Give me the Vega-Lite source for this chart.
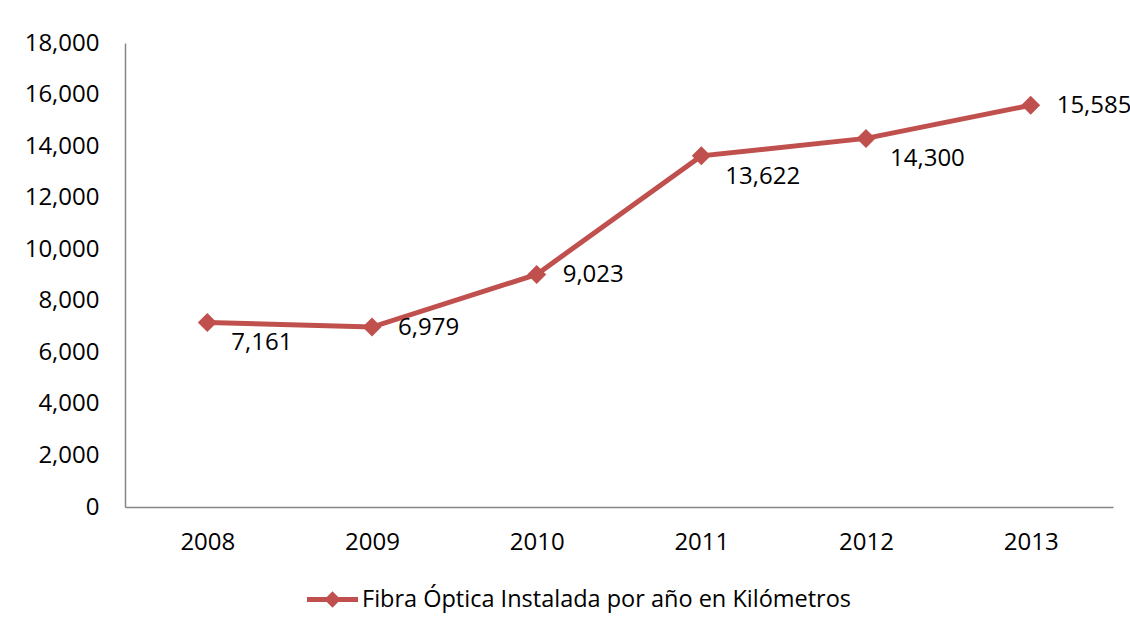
{
  "$schema": "https://vega.github.io/schema/vega-lite/v6.json",
  "autosize": {"type": "none"},
  "width": 988,
  "height": 464,
  "padding": {"left": 125, "top": 43, "right": 17, "bottom": 124},
  "background": "white",
  "config": {
    "view": {"stroke": null},
    "font": "Open Sans",
    "axis": {"labelFont": "Open Sans", "labelFontSize": 24, "labelColor": "#000000", "domainColor": "#868686", "domainWidth": 1.5, "ticks": false, "grid": false, "title": null}
  },
  "data": {
    "values": [
      {"year": "2008", "km": 7161, "serie": "Fibra Óptica Instalada por año en Kilómetros", "pos": "below"},
      {"year": "2009", "km": 6979, "serie": "Fibra Óptica Instalada por año en Kilómetros", "pos": "right"},
      {"year": "2010", "km": 9023, "serie": "Fibra Óptica Instalada por año en Kilómetros", "pos": "right"},
      {"year": "2011", "km": 13622, "serie": "Fibra Óptica Instalada por año en Kilómetros", "pos": "below"},
      {"year": "2012", "km": 14300, "serie": "Fibra Óptica Instalada por año en Kilómetros", "pos": "below"},
      {"year": "2013", "km": 15585, "serie": "Fibra Óptica Instalada por año en Kilómetros", "pos": "right"}
    ]
  },
  "encoding": {
    "x": {"field": "year", "type": "ordinal", "scale": {"type": "point", "padding": 0.5}, "axis": {"labelAngle": 0, "labelPadding": 23}},
    "y": {"field": "km", "type": "quantitative", "scale": {"domain": [0, 18000], "nice": false}, "axis": {"values": [0, 2000, 4000, 6000, 8000, 10000, 12000, 14000, 16000, 18000], "format": ",d", "labelPadding": 26}}
  },
  "layer": [
    {
      "mark": {"type": "line", "strokeWidth": 5},
      "encoding": {
        "color": {"field": "serie", "type": "nominal", "scale": {"range": ["#C0504D"]},
          "legend": {"title": null, "orient": "none", "legendX": 182, "legendY": 531, "labelFontSize": 23.5, "labelFont": "Open Sans", "labelColor": "#000000", "labelLimit": 0, "symbolType": "M-1,-0.1H1V0.1H-1Z M0,-0.32L0.32,0L0,0.32L-0.32,0Z", "symbolSize": 2601, "symbolStrokeWidth": 0, "symbolFillColor": "#C0504D", "labelOffset": 4}}
      }
    },
    {
      "mark": {"type": "point", "shape": "diamond", "filled": true, "size": 361, "opacity": 1},
      "encoding": {"color": {"field": "serie", "type": "nominal"}}
    },
    {
      "transform": [{"filter": "datum.pos == 'right'"}],
      "mark": {"type": "text", "align": "left", "baseline": "middle", "dx": 26, "dy": 1, "fontSize": 24, "color": "#000000"},
      "encoding": {"text": {"field": "km", "type": "quantitative", "format": ",d"}}
    },
    {
      "transform": [{"filter": "datum.pos == 'below'"}],
      "mark": {"type": "text", "align": "left", "baseline": "middle", "dx": 24, "dy": 21, "fontSize": 24, "color": "#000000"},
      "encoding": {"text": {"field": "km", "type": "quantitative", "format": ",d"}}
    }
  ]
}
